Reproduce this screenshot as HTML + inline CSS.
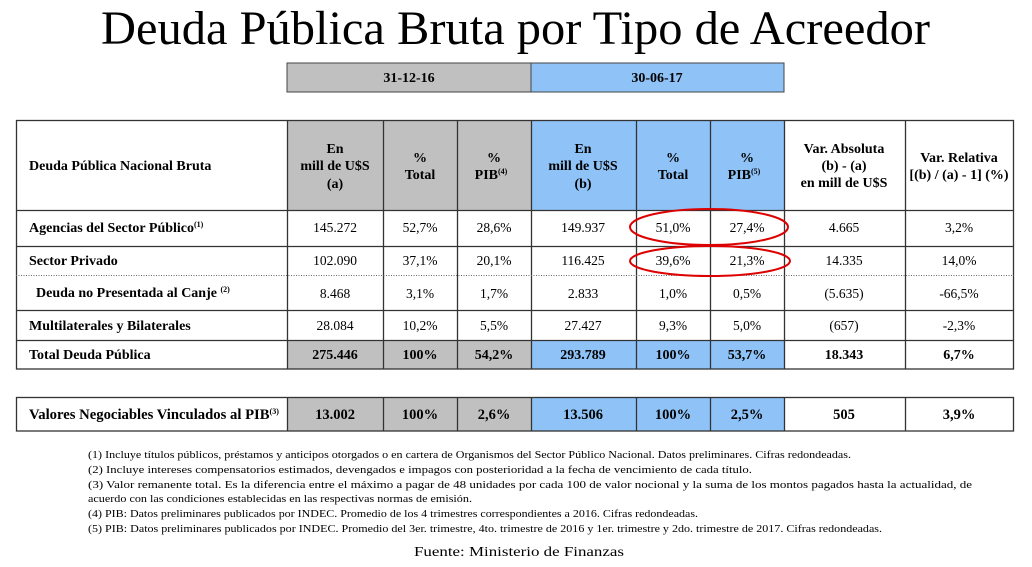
<!DOCTYPE html>
<html><head><meta charset="utf-8"><style>
html,body{margin:0;padding:0;background:#fff;}
svg{display:block;}
text{font-family:"Liberation Serif",serif;fill:#000;}
.b{font-weight:bold;font-size:14px;}
.b2{font-weight:bold;font-size:14.5px;}
.d{font-size:13.5px;}
.f{font-size:11px;}
</style></head><body>
<svg width="1032" height="567" viewBox="0 0 1032 567" xmlns="http://www.w3.org/2000/svg">
<text x="101" y="44" font-size="48" textLength="829" lengthAdjust="spacingAndGlyphs">Deuda Pública Bruta por Tipo de Acreedor</text>

<rect x="287" y="63" width="244" height="29" fill="#c0c0c0" stroke="#444" stroke-width="1"/>
<rect x="531" y="63" width="253" height="29" fill="#8fc3f7" stroke="#444" stroke-width="1"/>
<text class="b" x="409" y="82" text-anchor="middle">31-12-16</text>
<text class="b" x="657" y="82" text-anchor="middle">30-06-17</text>

<rect x="287" y="120" width="244" height="90" fill="#c0c0c0"/>
<rect x="531" y="120" width="253" height="90" fill="#8fc3f7"/>
<rect x="287" y="340" width="244" height="29" fill="#c0c0c0"/>
<rect x="531" y="340" width="253" height="29" fill="#8fc3f7"/>
<g stroke="#333" stroke-width="1.3" fill="none">
<rect x="16.5" y="120.5" width="997" height="248.5"/>
<line x1="16" y1="210.5" x2="1014" y2="210.5"/>
<line x1="16" y1="246.5" x2="1014" y2="246.5"/>
<line x1="16" y1="310.5" x2="1014" y2="310.5"/>
<line x1="16" y1="340.5" x2="1014" y2="340.5"/>
<line x1="287.5" y1="120" x2="287.5" y2="369"/>
<line x1="383.5" y1="120" x2="383.5" y2="369"/>
<line x1="457.5" y1="120" x2="457.5" y2="369"/>
<line x1="531.5" y1="120" x2="531.5" y2="369"/>
<line x1="636.5" y1="120" x2="636.5" y2="369"/>
<line x1="710.5" y1="120" x2="710.5" y2="369"/>
<line x1="784.5" y1="120" x2="784.5" y2="369"/>
<line x1="905.5" y1="120" x2="905.5" y2="369"/>
</g>
<line x1="16" y1="275.5" x2="1014" y2="275.5" stroke="#666" stroke-width="1" stroke-dasharray="1,1.5"/>

<text class="b" x="29" y="170">Deuda Pública Nacional Bruta</text>
<g class="b" text-anchor="middle">
<text x="335" y="153">En</text><text x="335" y="170">mill de U$S</text><text x="335" y="188">(a)</text>
<text x="420" y="162">%</text><text x="420" y="179">Total</text>
<text x="494" y="162">%</text><text x="491" y="179">PIB<tspan font-size="8" dy="-5">(4)</tspan></text>
<text x="583" y="153">En</text><text x="583" y="170">mill de U$S</text><text x="583" y="188">(b)</text>
<text x="673" y="162">%</text><text x="673" y="179">Total</text>
<text x="747" y="162">%</text><text x="744" y="179">PIB<tspan font-size="8" dy="-5">(5)</tspan></text>
<text x="844" y="153">Var. Absoluta</text><text x="844" y="170">(b) - (a)</text><text x="844" y="187">en mill de U$S</text>
<text x="959" y="162">Var. Relativa</text><text x="959" y="179">[(b) / (a) - 1] (%)</text>
</g>

<g class="b">
<text x="29" y="232">Agencias del Sector Público<tspan font-size="8" dy="-5">(1)</tspan></text>
<text x="29" y="265">Sector Privado</text>
<text x="36" y="297">Deuda no Presentada al Canje <tspan font-size="8" dy="-5">(2)</tspan></text>
<text x="29" y="330">Multilaterales y Bilaterales</text>
<text x="29" y="359">Total Deuda Pública</text>
</g>
<g class="d" text-anchor="middle">
<text x="335" y="232">145.272</text><text x="420" y="232">52,7%</text><text x="494" y="232">28,6%</text><text x="583" y="232">149.937</text><text x="673" y="232">51,0%</text><text x="747" y="232">27,4%</text><text x="844" y="232">4.665</text><text x="959" y="232">3,2%</text>
<text x="335" y="265">102.090</text><text x="420" y="265">37,1%</text><text x="494" y="265">20,1%</text><text x="583" y="265">116.425</text><text x="673" y="265">39,6%</text><text x="747" y="265">21,3%</text><text x="844" y="265">14.335</text><text x="959" y="265">14,0%</text>
<text x="335" y="298">8.468</text><text x="420" y="298">3,1%</text><text x="494" y="298">1,7%</text><text x="583" y="298">2.833</text><text x="673" y="298">1,0%</text><text x="747" y="298">0,5%</text><text x="844" y="298">(5.635)</text><text x="959" y="298">-66,5%</text>
<text x="335" y="330">28.084</text><text x="420" y="330">10,2%</text><text x="494" y="330">5,5%</text><text x="583" y="330">27.427</text><text x="673" y="330">9,3%</text><text x="747" y="330">5,0%</text><text x="844" y="330">(657)</text><text x="959" y="330">-2,3%</text>
</g>
<g class="b" text-anchor="middle">
<text x="335" y="359">275.446</text><text x="420" y="359">100%</text><text x="494" y="359">54,2%</text><text x="583" y="359">293.789</text><text x="673" y="359">100%</text><text x="747" y="359">53,7%</text><text x="844" y="359">18.343</text><text x="959" y="359">6,7%</text>
</g>

<ellipse cx="709" cy="227" rx="79" ry="18" fill="none" stroke="#d00" stroke-width="2"/>
<ellipse cx="710" cy="261" rx="80" ry="15" fill="none" stroke="#d00" stroke-width="2"/>

<rect x="287" y="397" width="244" height="34" fill="#c0c0c0"/>
<rect x="531" y="397" width="253" height="34" fill="#8fc3f7"/>
<g stroke="#333" stroke-width="1.3" fill="none">
<rect x="16.5" y="397.5" width="997" height="33.5"/>
<line x1="287.5" y1="397" x2="287.5" y2="431"/>
<line x1="383.5" y1="397" x2="383.5" y2="431"/>
<line x1="457.5" y1="397" x2="457.5" y2="431"/>
<line x1="531.5" y1="397" x2="531.5" y2="431"/>
<line x1="636.5" y1="397" x2="636.5" y2="431"/>
<line x1="710.5" y1="397" x2="710.5" y2="431"/>
<line x1="784.5" y1="397" x2="784.5" y2="431"/>
<line x1="905.5" y1="397" x2="905.5" y2="431"/>
</g>
<text class="b2" x="29" y="419" textLength="250" lengthAdjust="spacingAndGlyphs">Valores Negociables Vinculados al PIB<tspan font-size="8" dy="-5">(3)</tspan></text>
<g class="b2" text-anchor="middle">
<text x="335" y="419">13.002</text><text x="420" y="419">100%</text><text x="494" y="419">2,6%</text><text x="583" y="419">13.506</text><text x="673" y="419">100%</text><text x="747" y="419">2,5%</text><text x="844" y="419">505</text><text x="959" y="419">3,9%</text>
</g>

<g class="f">
<text x="88" y="458" textLength="763" lengthAdjust="spacingAndGlyphs">(1) Incluye títulos públicos, préstamos y anticipos otorgados o en cartera de Organismos del Sector Público Nacional. Datos preliminares. Cifras redondeadas.</text>
<text x="88" y="473" textLength="664" lengthAdjust="spacingAndGlyphs">(2) Incluye intereses compensatorios estimados, devengados e impagos con posterioridad a la fecha de vencimiento de cada título.</text>
<text x="88" y="488" textLength="884" lengthAdjust="spacingAndGlyphs">(3) Valor remanente total. Es la diferencia entre el máximo a pagar de 48 unidades por cada 100 de valor nocional y la suma de los montos pagados hasta la actualidad, de</text>
<text x="88" y="502" textLength="384" lengthAdjust="spacingAndGlyphs">acuerdo con las condiciones establecidas en las respectivas normas de emisión.</text>
<text x="88" y="517" textLength="610" lengthAdjust="spacingAndGlyphs">(4) PIB: Datos preliminares publicados por INDEC. Promedio de los 4 trimestres correspondientes a 2016. Cifras redondeadas.</text>
<text x="88" y="532" textLength="794" lengthAdjust="spacingAndGlyphs">(5) PIB: Datos preliminares publicados por INDEC. Promedio del 3er. trimestre, 4to. trimestre de 2016 y 1er. trimestre y 2do. trimestre de 2017. Cifras redondeadas.</text>
</g>
<text x="414" y="556" font-size="14" textLength="210" lengthAdjust="spacingAndGlyphs">Fuente: Ministerio de Finanzas</text>
</svg>
</body></html>
